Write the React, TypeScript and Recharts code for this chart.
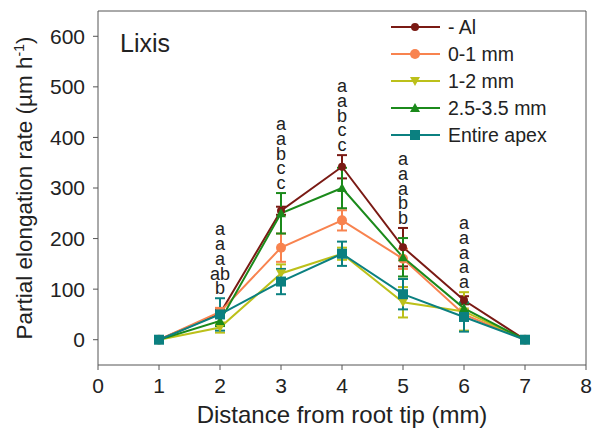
import React from 'react';
import { LineChart, Line, XAxis, YAxis, ErrorBar, ReferenceLine, Customized, Label } from 'recharts';

document.body.style.margin = '0';

const distance = [1, 2, 3, 4, 5, 6, 7];
const xTicks = [0, 1, 2, 3, 4, 5, 6, 7, 8];
const yTicks = [0, 100, 200, 300, 400, 500, 600];

const minusAl = [0, 52, 255, 342, 183, 78, 0];
const minusAlErr = [0, 8, 8, 23, 38, 8, 0];
const zeroOne = [0, 55, 182, 236, 160, 50, 0];
const zeroOneErr = [0, 8, 28, 20, 20, 10, 0];
const oneTwo = [0, 24, 131, 170, 74, 56, 0];
const oneTwoErr = [0, 10, 18, 12, 30, 38, 0];
const twoFive = [0, 37, 250, 300, 163, 62, 0];
const twoFiveErr = [0, 10, 40, 40, 38, 10, 0];
const entire = [0, 50, 115, 170, 90, 45, 0];
const entireErr = [0, 32, 25, 24, 30, 29, 0];

const letters = [
    [],
    ['a', 'a', 'a', 'ab', 'b'],
    ['a', 'a', 'b', 'c', 'c'],
    ['a', 'a', 'b', 'c', 'c'],
    ['a', 'a', 'a', 'b', 'b'],
    ['a', 'a', 'a', 'a', 'a'],
    [],
];

const series = [
    { key: 'al', name: '- Al', values: minusAl, errs: minusAlErr, color: '#7a1a14', shape: 'circle' },
    { key: 'z1', name: '0-1 mm', values: zeroOne, errs: zeroOneErr, color: '#f8834f', shape: 'bigcircle' },
    { key: 'o2', name: '1-2 mm', values: oneTwo, errs: oneTwoErr, color: '#bcc01a', shape: 'down' },
    { key: 't5', name: '2.5-3.5 mm', values: twoFive, errs: twoFiveErr, color: '#1b8a1b', shape: 'up' },
    { key: 'en', name: 'Entire apex', values: entire, errs: entireErr, color: '#0b8080', shape: 'square' },
];

const data = distance.map((x, i) => {
    const row: any = { x };
    let top = 0;
    series.forEach(s => {
        row[s.key] = s.values[i];
        row[s.key + 'Err'] = s.errs[i];
        top = Math.max(top, s.values[i] + s.errs[i]);
    });
    row.anchor = letters[i].length ? top : null;
    row.letters = letters[i];
    return row;
});

const font = '"Liberation Sans", Arial, sans-serif';

const Marker = ({ shape, cx, cy, color }: any) => {
    if (shape === 'circle') return <circle cx={cx} cy={cy} r={4} fill={color} />;
    if (shape === 'bigcircle') return <circle cx={cx} cy={cy} r={5} fill={color} />;
    if (shape === 'down') return <polygon points={`${cx - 5},${cy - 4} ${cx + 5},${cy - 4} ${cx},${cy + 5}`} fill={color} />;
    if (shape === 'up') return <polygon points={`${cx - 5},${cy + 4} ${cx + 5},${cy + 4} ${cx},${cy - 5}`} fill={color} />;
    return <rect x={cx - 5} y={cy - 5} width={10} height={10} fill={color} />;
};

const renderLetters = (p: any) => {
    const { cx, cy, payload, index } = p;
    if (cy == null || !payload.letters.length) return <g key={'l' + index} />;
    const n = payload.letters.length;
    return (
        <g key={'l' + index}>
            {payload.letters.map((t: string, j: number) => (
                <text key={j} x={cx} y={cy - 4 - (n - 1 - j) * 14.7} textAnchor="middle"
                    fontSize={18} fontFamily={font} fill="#222">{t}</text>
            ))}
        </g>
    );
};

// legend drawn as svg in the top right corner
const LegendBox = () => (
    <g fontFamily={font} fontSize={19.5} fill="#222">
        {series.map((s, i) => {
            const y = 27 + i * 27;
            return (
                <g key={s.key}>
                    <line x1={391} x2={440} y1={y} y2={y} stroke={s.color} strokeWidth={2} />
                    <Marker shape={s.shape} cx={415} cy={y} color={s.color} />
                    <text x={448} y={y + 7}>{s.name}</text>
                </g>
            );
        })}
    </g>
);

const tickStyle = { fill: '#222', fontSize: 21, fontFamily: font };

export default function App() {
    return (
        <LineChart width={594} height={432} data={data} margin={{ top: 11, right: 8, left: 0, bottom: 0 }}>
            <XAxis dataKey="x" type="number" domain={[0, 8]} ticks={xTicks} height={67}
                stroke="#555" tickSize={5} tick={tickStyle} tickMargin={8}>
                <Label content={() => (
                    <text x={342} y={423} textAnchor="middle" fontSize={24} fontFamily={font} fill="#222">
                        Distance from root tip (mm)
                    </text>
                )} />
            </XAxis>
            <YAxis type="number" domain={[-50, 650]} ticks={yTicks} width={98}
                stroke="#555" tickSize={5} tick={tickStyle} tickMargin={8}>
                <Label content={() => (
                    <text transform="translate(32,188) rotate(-90)" textAnchor="middle" fontSize={22.5}
                        fontFamily={font} fill="#222">
                        Partial elongation rate (µm h<tspan dy={-8} fontSize={14}>-1</tspan><tspan dy={8}>)</tspan>
                    </text>
                )} />
            </YAxis>
            <ReferenceLine y={650} stroke="#555" />
            <ReferenceLine x={8} stroke="#555" />
            {series.map(s => (
                <Line key={s.key} dataKey={s.key} name={s.name} stroke={s.color} strokeWidth={2}
                    isAnimationActive={false}
                    dot={(p: any) => <Marker key={s.key + p.index} shape={s.shape} cx={p.cx} cy={p.cy} color={s.color} />}
                    activeDot={false}>
                    <ErrorBar dataKey={s.key + 'Err'} width={5} strokeWidth={2} stroke={s.color} direction="y" isAnimationActive={false} />
                </Line>
            ))}
            <Line dataKey="anchor" stroke="none" dot={renderLetters} activeDot={false} isAnimationActive={false} legendType="none" />
            <Customized component={() => (
                <g>
                    <text x={120} y={52} fontSize={25} fontFamily={font} fill="#222">Lixis</text>
                    <LegendBox />
                </g>
            )} />
        </LineChart>
    );
}
